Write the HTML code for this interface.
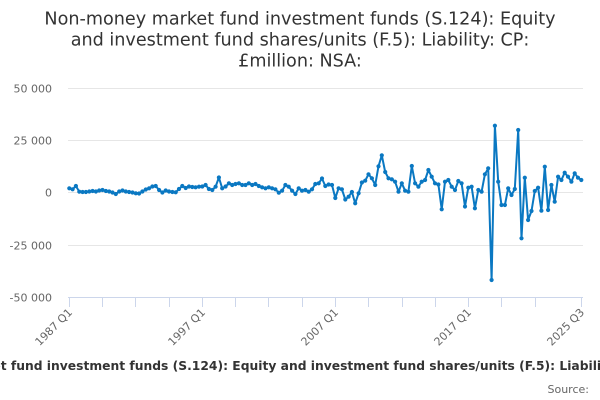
<!DOCTYPE html>
<html>
<head>
<meta charset="utf-8">
<style>
  html, body { margin: 0; padding: 0; background: #ffffff; }
  svg { display: block; font-family: "DejaVu Sans", "Liberation Sans", sans-serif; }
</style>
</head>
<body>
<svg width="600" height="400" viewBox="0 0 600 400" xmlns="http://www.w3.org/2000/svg">
  <defs>
    <marker id="m" markerWidth="6" markerHeight="6" refX="3" refY="3" markerUnits="userSpaceOnUse">
      <circle cx="3" cy="3" r="2.1" fill="#0a78c2"/>
    </marker>
  </defs>
  <rect width="600" height="400" fill="#ffffff"/>

  <!-- Title -->
  <g fill="#333333" font-size="17.6" text-anchor="middle">
    <text x="300" y="24.5">Non-money market fund investment funds (S.124): Equity</text>
    <text x="300" y="45.5">and investment fund shares/units (F.5): Liability: CP:</text>
    <text x="300" y="66.5">£million: NSA:</text>
  </g>

  <!-- Gridlines -->
  <g stroke="#e6e6e6" stroke-width="1">
    <line x1="68" y1="88.5" x2="583" y2="88.5"/>
    <line x1="68" y1="140.5" x2="583" y2="140.5"/>
    <line x1="68" y1="192.5" x2="583" y2="192.5"/>
    <line x1="68" y1="245.5" x2="583" y2="245.5"/>
  </g>
  <!-- X axis line -->
  <line x1="68" y1="297.5" x2="583" y2="297.5" stroke="#ccd6eb" stroke-width="1"/>

  <!-- Y labels -->
  <g fill="#666666" font-size="11" text-anchor="end">
    <text x="52" y="92.5">50 000</text>
    <text x="52" y="144.5">25 000</text>
    <text x="52" y="196.5">0</text>
    <text x="52" y="249.5">-25 000</text>
    <text x="52" y="301.5">-50 000</text>
  </g>

  <!-- X ticks -->
  <g stroke="#ccd6eb" stroke-width="1">
    <line x1="69.5" y1="297" x2="69.5" y2="307"/>
    <line x1="102.5" y1="297" x2="102.5" y2="307"/>
    <line x1="135.5" y1="297" x2="135.5" y2="307"/>
    <line x1="169.5" y1="297" x2="169.5" y2="307"/>
    <line x1="202.5" y1="297" x2="202.5" y2="307"/>
    <line x1="235.5" y1="297" x2="235.5" y2="307"/>
    <line x1="268.5" y1="297" x2="268.5" y2="307"/>
    <line x1="302.5" y1="297" x2="302.5" y2="307"/>
    <line x1="335.5" y1="297" x2="335.5" y2="307"/>
    <line x1="368.5" y1="297" x2="368.5" y2="307"/>
    <line x1="402.5" y1="297" x2="402.5" y2="307"/>
    <line x1="435.5" y1="297" x2="435.5" y2="307"/>
    <line x1="468.5" y1="297" x2="468.5" y2="307"/>
    <line x1="501.5" y1="297" x2="501.5" y2="307"/>
    <line x1="535.5" y1="297" x2="535.5" y2="307"/>
    <line x1="581.5" y1="297" x2="581.5" y2="307"/>
  </g>

  <!-- X labels -->
  <g fill="#666666" font-size="11" text-anchor="end">
    <text x="73" y="313" transform="rotate(-45 73 313)">1987 Q1</text>
    <text x="206" y="313" transform="rotate(-45 206 313)">1997 Q1</text>
    <text x="339" y="313" transform="rotate(-45 339 313)">2007 Q1</text>
    <text x="472" y="313" transform="rotate(-45 472 313)">2017 Q1</text>
    <text x="585" y="313" transform="rotate(-45 585 313)">2025 Q3</text>
  </g>

  <!-- Series -->
  <polyline fill="none" stroke="#0a78c2" stroke-width="2" stroke-linejoin="round" stroke-linecap="round"
    marker-start="url(#m)" marker-mid="url(#m)" marker-end="url(#m)"
    points="69.3,188.3 72.6,189.3 75.9,186 79.3,191.7 82.6,192 85.9,192 89.3,191.5 92.6,191 95.9,191.5 99.2,190.5 102.5,190 105.9,191 109.2,191.5 112.5,192.5 115.8,194 119.2,191.5 122.5,190.5 125.8,191.5 129.1,192 132.5,192.5 135.8,193.3 139.1,193.5 142.4,191.5 145.8,189.5 149.1,188.3 152.4,186.5 155.7,186 159.1,190 162.4,192.5 165.7,190.5 169,191.5 172.4,192 175.7,192.3 179,189 182.3,186 185.7,188 189,186.5 192.3,187 195.6,187.3 199,186.7 202.3,186.5 205.6,185 208.9,189 212.3,190 215.6,186.7 218.9,177.5 222.2,188.3 225.6,186.5 228.9,183.3 232.2,185 235.5,184 238.9,183.3 242.2,185 245.5,185 248.8,183.3 252.2,185 255.5,184 258.8,186 262.1,187.3 265.5,188.3 268.8,187.3 272.1,188.3 275.4,189.3 278.8,192.7 282.1,190.7 285.4,185 288.7,186.7 292.1,190.7 295.4,194 298.7,188.3 302,190.7 305.4,190 308.7,191.7 312,189.3 315.3,184 318.7,183.3 322,178.5 325.3,186 328.6,184.5 332,185 335.3,198 338.6,188.3 341.9,189.3 345.3,199.5 348.6,196.7 351.9,192 355.2,203.3 358.6,193.3 361.9,182.5 365.2,180.7 368.5,174.3 371.9,178.3 375.2,185 378.5,166.3 381.8,155.3 385.2,172 388.5,178.3 391.8,179.3 395.1,181.7 398.5,191.7 401.8,183.3 405.1,190.7 408.4,191.7 411.8,166 415.1,183.3 418.4,186.7 421.7,181.7 425.1,180 428.4,170 431.7,176.7 435,183.3 438.4,184.5 441.7,209.3 445,181.7 448.3,180 451.7,186.7 455,190 458.3,181 461.6,183.3 465,206.5 468.3,187.7 471.6,186.7 474.9,208.3 478.3,190 481.6,191.7 484.9,174.3 488.2,168.3 491.6,280 494.9,125.7 498.2,181.7 501.5,205 504.9,205 508.2,188.3 511.5,195 514.8,189 518.2,130 521.5,238.3 524.8,177.7 528.1,220 531.5,211 534.8,191 538.1,187.7 541.4,210.7 544.8,166.7 548.1,210 551.4,185 554.7,201.7 558.1,176.7 561.4,180 564.7,172.7 568,176.7 571.4,181.7 574.7,173.3 578,177.7 581.3,180"/>

  <!-- Legend -->
  <text x="312" y="370" fill="#333333" font-size="12.3" font-weight="bold" text-anchor="middle">Non-money market fund investment funds (S.124): Equity and investment fund shares/units (F.5): Liability: CP: £million: NSA:</text>

  <!-- Source -->
  <text x="589" y="393" fill="#666666" font-size="11" text-anchor="end">Source:</text>
</svg>
</body>
</html>
